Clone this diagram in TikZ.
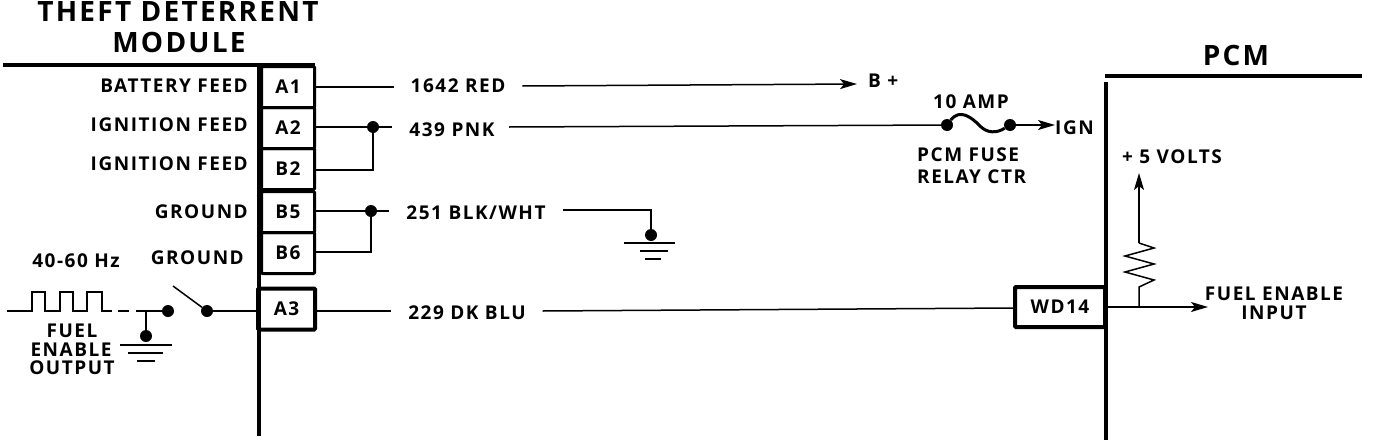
\documentclass[tikz,border=0pt]{standalone}
\usepackage{fontspec}
\setmainfont{Open Sans}[LetterSpace=8]
\usetikzlibrary{arrows.meta}
\tikzset{
  lbl/.style={inner sep=0pt, yshift=-1pt, font=\fontsize{19}{22}\selectfont\bfseries},
  big/.style={inner sep=0pt, font=\fontsize{28}{31}\selectfont\bfseries},
  wirelbl/.style={lbl, outer xsep=17pt},
  pinbox/.style={draw, line width=3pt, rounded corners=1pt, minimum height=41pt, minimum width=53pt, inner sep=0pt, font=\fontsize{19}{22}\selectfont\bfseries},
  dot/.style={circle, fill, inner sep=0pt, minimum size=12pt},
  wire/.style={line width=1.5pt},
  heavy/.style={line width=4pt},
  tip/.style={-{Stealth[length=17pt,width=10pt,inset=4pt]}}
}
\begin{document}
\begin{tikzpicture}[x=1pt,y=-1pt]
\useasboundingbox (0,0) rectangle (1376,442);
% module and PCM edges
\coordinate (modtl) at (3,65);
\coordinate (modtr) at (315,65);
\coordinate (modt) at (259,65);
\coordinate (modb) at (259,436);
\coordinate (pcmtl) at (1105,76);
\coordinate (pcmtr) at (1362,76);
\coordinate (pcmt) at (1106,82);
\coordinate (pcmb) at (1106,440);
\draw[heavy] (modtl) -- (modtr);
\draw[heavy] (modt) -- (modb);
\draw[heavy] (pcmtl) -- (pcmtr);
\draw[heavy] (pcmt) -- (pcmb);
\node[big] (title) at (178,12) {THEFT DETERRENT};
\node[big] (module) at (179,42) {MODULE};
\node[big] (pcm) at (1236,55) {PCM};
% pins
\node[pinbox] (A1) at (288,87) {A1};
\node[pinbox] (A2) at (288,128) {A2};
\node[pinbox] (B2) at (288,169) {B2};
\node[pinbox] (B5) at (288,212) {B5};
\node[pinbox] (B6) at (288,253) {B6};
\node[pinbox, line width=4pt, minimum width=57pt] (A3) at (286.5,309) {A3};
\node[pinbox, line width=4pt, minimum width=90pt, minimum height=40pt] (WD14) at (1060,307) {WD14};
% pin names
\node[lbl, anchor=east] (nbat) at (248,85) {BATTERY FEED};
\node[lbl, anchor=east] (nign) at (248,124) {IGNITION FEED};
\node[lbl, anchor=east] (nign2) at (248,163) {IGNITION FEED};
\node[lbl, anchor=east] (ngnd) at (248,211) {GROUND};
\node[lbl, anchor=east] (ngnd2) at (244,257) {GROUND};
% wire labels
\node[wirelbl] (red) at (458,85) {1642 RED};
\node[lbl, anchor=west] (bplus) at (868,80) {B +};
\node[wirelbl] (pnk) at (452,129) {439 PNK};
\node[wirelbl] (blk) at (476,212) {251 BLK/WHT};
\node[wirelbl] (blu) at (467,312) {229 DK BLU};
\coordinate (j1) at (373,127);
\coordinate (j2) at (371,211);
\coordinate (btip) at (857,84);
\coordinate (pnkend) at (509,127);
\node[dot] (d1) at (j1) {};
\node[dot] (d2) at (j2) {};
\draw[wire] (A1.east |- 0,87) -- (red.west |- 0,87);
\draw[wire, tip] (red.east |- 0,86) -- (btip);
\draw[wire] (A2.east |- j1) -- (pnk.west |- j1);
\draw[wire] (B2.east |- 0,170) -| (d1);
\draw[wire] (B5.east |- j2) -- (blk.west |- j2);
\draw[wire] (B6.east |- 0,252) -| (d2);
\draw[wire] (A3.east |- 0,311) -- (blu.west |- 0,311);
\draw[wire] (blu.east |- 0,311) -- (WD14.west |- 0,308);
% fuse
\node[dot] (f1) at (947,125) {};
\node[dot] (f2) at (1010,125) {};
\node[lbl] (amp) at (971,101) {10 AMP};
\node[lbl, anchor=west] (ign) at (1055,127) {IGN};
\node[lbl, anchor=west] (fuse1) at (917,154) {PCM FUSE};
\node[lbl, anchor=west] (fuse2) at (917,176) {RELAY CTR};
\draw[wire] (pnkend) -- (f1);
\draw[line width=3pt] (f1) .. controls (960,108) and (972,118) .. (979,125) .. controls (987,134) and (997,133) .. (f2);
\draw[wire, tip] (f2) -- (ign.west |- f2);
% ground at BLK/WHT
\coordinate (g1c) at (651,210);
\node[dot] (g1) at (651,235) {};
\coordinate (g1al) at (624,243);
\coordinate (g1ar) at (675,243);
\coordinate (g1bl) at (640,251);
\coordinate (g1br) at (668,251);
\coordinate (g1cl) at (645,259);
\coordinate (g1cr) at (661,259);
\draw[wire] (blk.east |- g1c) -- (g1c) -- (g1);
\draw[line width=2pt] (g1al) -- (g1ar) (g1bl) -- (g1br) (g1cl) -- (g1cr);
% fuel enable output
\node[lbl] (hz) at (76,260) {40-60 Hz};
\node[lbl] (fo1) at (72,330) {FUEL};
\node[lbl] (fo2) at (71,349) {ENABLE};
\node[lbl] (fo3) at (72,367) {OUTPUT};
\coordinate (w0) at (7,311);
\coordinate (w1) at (112,311);
\coordinate (w2) at (118,311);
\coordinate (w3) at (129,311);
\coordinate (w4) at (136,311);
\node[dot] (s1) at (168,311) {};
\node[dot] (s2) at (207,311) {};
\coordinate (s3) at (173,286);
\coordinate (j3) at (146,311);
\node[dot] (g2) at (146,336) {};
\draw[wire] (w0) -- ++(25,0) -- ++(0,-19) -- ++(13,0) -- ++(0,19) -- ++(15,0) -- ++(0,-19) -- ++(13,0) -- ++(0,19) -- ++(14,0) -- ++(0,-19) -- ++(15,0) -- ++(0,19) -- (w1);
\draw[wire] (w2) -- (w3);
\draw[wire] (w4) -- (s1);
\draw[wire] (j3) -- (g2);
\draw[wire] (s2) -- (s3);
\draw[line width=2.5pt] (s2) -- (A3.west |- s2);
\draw[line width=2pt] (120,345) -- (172,345) (128,353) -- (163,353) (137,361) -- (155,361);
% PCM side
\node[lbl] (volts) at (1172,156) {+ 5 VOLTS};
\node[lbl] (fi1) at (1274,293) {FUEL ENABLE};
\node[lbl] (fi2) at (1274,312) {INPUT};
\coordinate (in0) at (1108,307);
\coordinate (in1) at (1139,307);
\coordinate (r0) at (1139,287);
\coordinate (r1) at (1139,243);
\coordinate (vtip) at (1139,173);
\coordinate (itip) at (1208,307);
\draw[wire, tip] (in0) -- (itip);
\draw[wire, tip] (r1) -- (vtip);
\draw[wire] (in1) -- (r0) -- (1154,280) -- (1125,272) -- (1154,264) -- (1125,256) -- (1154,248) -- (r1);
\end{tikzpicture}
\end{document}
